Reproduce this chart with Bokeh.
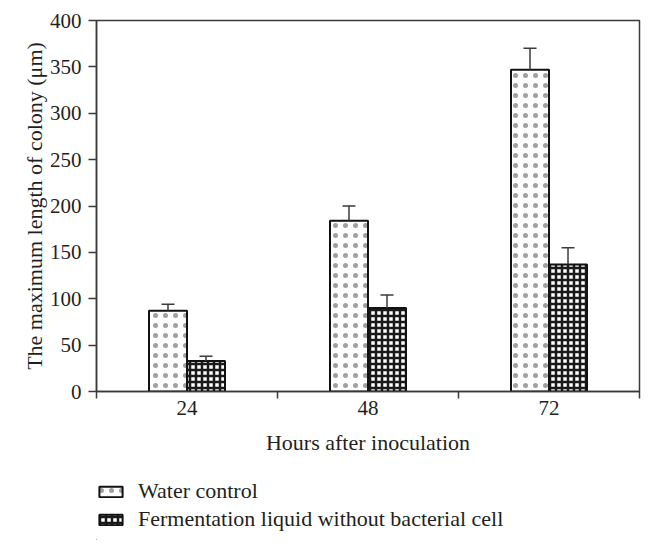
from bokeh.plotting import figure
from bokeh.layouts import column
from bokeh.models import (ColumnDataSource, FactorRange, Range1d, LinearAxis, FixedTicker,
                          Whisker, TeeHead, Legend, LegendItem)
from bokeh.transform import dodge
from bokeh.embed import file_html
from bokeh.resources import INLINE

# ---- data ----
hours = ["24", "48", "72"]
water = [87, 184, 347]
water_err = [7, 16, 23]
ferment = [33, 90, 137]
ferment_err = [5, 14, 18]
y_ticks = [0, 50, 100, 150, 200, 250, 300, 350, 400]
series_names = ["Water control", "Fermentation liquid without bacterial cell"]
x_title = "Hours after inoculation"
y_title = "The maximum length of colony (\u03bcm)"

FONT = "Liberation Serif"
TXT = "#231f20"
LINE = "#3a3a3a"
W = 646

water_style = dict(fill_color="white", line_color="#111", line_width=2,
                   hatch_pattern="dot", hatch_color="#a0a0a0", hatch_scale=10, hatch_weight=0.7)
ferment_style = dict(fill_color="white", line_color="#111", line_width=2,
                     hatch_pattern="cross", hatch_color="#1a1a1a", hatch_scale=6, hatch_weight=2.5)

src = ColumnDataSource(dict(
    hours=hours,
    water=water,
    water_hi=[v + e for v, e in zip(water, water_err)],
    ferment=ferment,
    ferment_hi=[v + e for v, e in zip(ferment, ferment_err)],
))

p = figure(width=W, height=465, x_range=FactorRange(*hours, range_padding=0),
           y_range=Range1d(0, 400), x_axis_location=None,
           output_backend="svg", toolbar_location=None,
           min_border_left=96, min_border_right=7, min_border_top=20, min_border_bottom=74)
p.background_fill_color = "white"
p.border_fill_color = "white"
p.outline_line_color = LINE
p.outline_line_width = 1.5
p.ygrid.grid_line_color = None
p.xgrid.grid_line_color = None

off = 0.105
r1 = p.vbar(x=dodge("hours", -off, range=p.x_range), top="water", width=0.21, source=src, **water_style)
r2 = p.vbar(x=dodge("hours", off, range=p.x_range), top="ferment", width=0.21, source=src, **ferment_style)

for col, hi, o in (("water", "water_hi", -off), ("ferment", "ferment_hi", off)):
    w = Whisker(source=src, base=dodge("hours", o, range=p.x_range), lower=col, upper=hi,
                lower_head=None,
                upper_head=TeeHead(size=13, line_color=LINE, line_width=1.5),
                line_color=LINE, line_width=1.5, level="overlay")
    p.add_layout(w)

# y axis
p.yaxis.ticker = FixedTicker(ticks=y_ticks)
p.yaxis.axis_label = y_title
p.yaxis.axis_label_text_font = FONT
p.yaxis.axis_label_text_font_style = "normal"
p.yaxis.axis_label_text_font_size = "22px"
p.yaxis.axis_label_text_color = TXT
p.yaxis.axis_label_standoff = 0
p.yaxis.major_label_text_font = FONT
p.yaxis.major_label_text_font_size = "21px"
p.yaxis.major_label_text_color = TXT
p.yaxis.major_label_standoff = 7
p.yaxis.major_tick_out = 8
p.yaxis.major_tick_in = 0
p.yaxis.minor_tick_line_color = None
p.yaxis.axis_line_color = LINE
p.yaxis.axis_line_width = 1.5
p.yaxis.major_tick_line_color = LINE
p.yaxis.major_tick_line_width = 1.5

# x axis: labels at category centres, ticks at category boundaries
n = len(hours)
xa = LinearAxis(ticker=FixedTicker(ticks=[i + 0.5 for i in range(n)], minor_ticks=list(range(n + 1))),
                major_label_overrides={i + 0.5: h for i, h in enumerate(hours)})
xa.axis_label = x_title
xa.axis_label_text_font = FONT
xa.axis_label_text_font_style = "normal"
xa.axis_label_text_font_size = "22px"
xa.axis_label_text_color = TXT
xa.axis_label_standoff = 12
xa.major_label_text_font = FONT
xa.major_label_text_font_size = "21px"
xa.major_label_text_color = TXT
xa.major_label_standoff = 2
xa.major_tick_line_color = None
xa.major_tick_out = 0
xa.major_tick_in = 0
xa.minor_tick_out = 7
xa.minor_tick_in = 0
xa.minor_tick_line_color = LINE
xa.minor_tick_line_width = 1.5
xa.axis_line_color = LINE
xa.axis_line_width = 1.5
p.add_layout(xa, "below")

# legend panel below the chart (frame aligned with the chart frame)
lf = figure(width=W, height=75, x_range=Range1d(0, 1), y_range=Range1d(0, 1),
            x_axis_location=None, y_axis_location=None,
            output_backend="svg", toolbar_location=None,
            min_border_left=96, min_border_right=7, min_border_top=0, min_border_bottom=0)
lf.outline_line_color = None
lf.grid.visible = False
lf.background_fill_color = "white"
lf.border_fill_color = "white"
# legend-only renderers: one sample each, lying far outside the visible area
lr1 = lf.vbar(x=[-5], top=[-5], bottom=[-6], width=0.1, **water_style)
lr2 = lf.vbar(x=[-5], top=[-5], bottom=[-6], width=0.1, **ferment_style)
legend = Legend(items=[LegendItem(label=series_names[0], renderers=[lr1]),
                       LegendItem(label=series_names[1], renderers=[lr2])],
                location=(0, 8), orientation="vertical",
                glyph_width=29, glyph_height=13, label_standoff=13, spacing=2,
                padding=0, margin=0, border_line_color=None, background_fill_alpha=0,
                label_text_font=FONT, label_text_font_size="22px", label_text_color=TXT)
lf.add_layout(legend)

layout = column(p, lf, spacing=0)
open("out.html", "w").write(file_html(layout, INLINE))
